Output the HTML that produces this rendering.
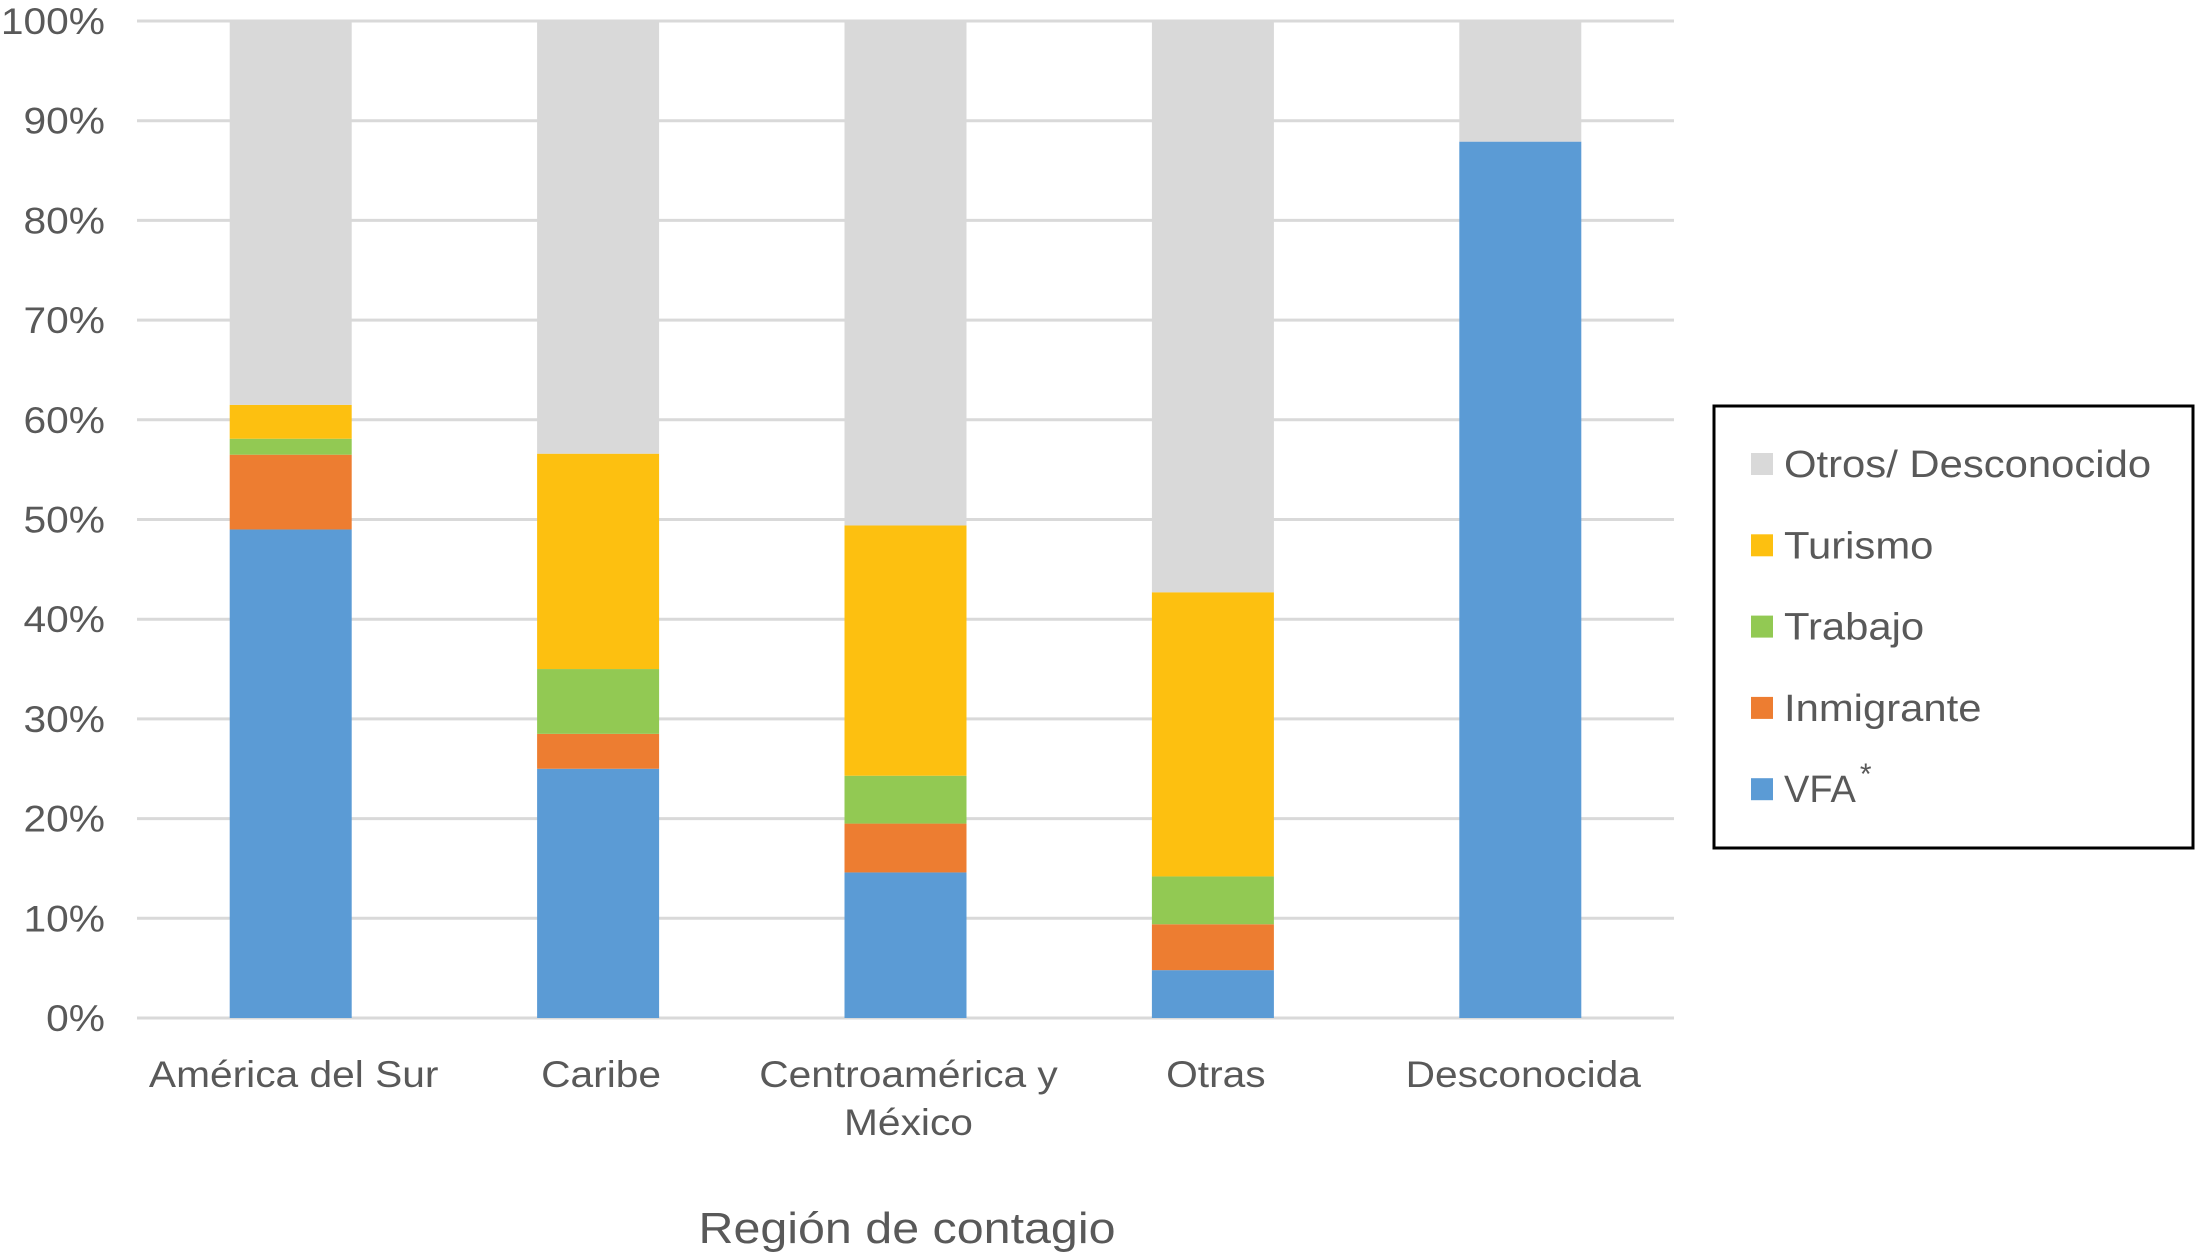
<!DOCTYPE html>
<html><head><meta charset="utf-8"><style>
html,body{margin:0;padding:0;background:#fff;}
svg{display:block;font-family:"Liberation Sans",Arial,sans-serif;}
</style></head><body>
<svg id="chart" width="2196" height="1256" viewBox="0 0 2196 1256" xmlns="http://www.w3.org/2000/svg">
<g id="grid"></g>
<g id="yticks"></g>
<g id="bars"></g>
<g id="xlabels"></g>
<text x="907" y="1243" font-size="44" fill="#595959" text-anchor="middle" textLength="417" lengthAdjust="spacingAndGlyphs">Región de contagio</text>
<g>
<rect x="1714" y="406" width="479" height="442" fill="#fff" stroke="#000" stroke-width="3"/>
<g id="legend-items"></g>
</g>
</svg>
<script>
const categories = [["América del Sur"], ["Caribe"], ["Centroamérica y", "México"], ["Otras"], ["Desconocida"]];
const seriesNames = ["VFA", "Inmigrante", "Trabajo", "Turismo", "Otros/ Desconocido"];
const seriesColors = ["#5B9BD5", "#ED7D31", "#92C953", "#FDC010", "#D9D9D9"];
const vfa = [49.0, 25.0, 14.6, 4.8, 87.9];
const inmigrante = [7.5, 3.5, 4.9, 4.6, 0];
const trabajo = [1.6, 6.5, 4.8, 4.8, 0];
const turismo = [3.4, 21.6, 25.1, 28.5, 0];
const otros = [38.5, 43.4, 50.6, 57.3, 12.1];
const yTicks = [0, 10, 20, 30, 40, 50, 60, 70, 80, 90, 100];

const NS = "http://www.w3.org/2000/svg";
const X0 = 137, X1 = 1674, Y0 = 1018, Y100 = 21;
const yScale = v => Y0 - (Y0 - Y100) * v / 100;
const band = (X1 - X0) / categories.length;
const xCenter = i => X0 + band * (i + 0.5);
const barW = 122;
const WIDEN = 1.1;
function mk(tag, attrs, parent) { const e = document.createElementNS(NS, tag); for (const k in attrs) e.setAttribute(k, attrs[k]); parent.appendChild(e); return e; }
function widen(t) { const w = t.getComputedTextLength(); t.setAttribute("textLength", w * WIDEN); t.setAttribute("lengthAdjust", "spacingAndGlyphs"); }

const grid = document.getElementById("grid"), yt = document.getElementById("yticks");
yTicks.forEach(t => {
  const l = mk("line", {x1: X0, x2: X1, y1: yScale(t), y2: yScale(t), stroke: "#D9D9D9", "stroke-width": 3}, grid);
  
  
  const tx = mk("text", {x: 105, y: yScale(t) + 13, "font-size": 37, fill: "#595959", "text-anchor": "end"}, yt);
  tx.textContent = t + "%";
  
  
  widen(tx);
});

const series = [vfa, inmigrante, trabajo, turismo, otros];
const bars = document.getElementById("bars");
categories.forEach((c, i) => {
  let acc = 0;
  series.forEach((s, k) => {
    const v = s[i];
    if (v > 0) {
      const r = mk("rect", {x: xCenter(i) - barW / 2, y: yScale(acc + v), width: barW, height: yScale(acc) - yScale(acc + v), fill: seriesColors[k]}, bars);
      
      
    }
    acc += v;
  });
  const xl = document.getElementById("xlabels");
  c.forEach((line, j) => {
    const t = mk("text", {x: xCenter(i) + 3, y: 1087 + j * 48, "font-size": 37, fill: "#595959", "text-anchor": "middle"}, xl);
    t.textContent = line;
    
    
    widen(t);
  });
});

const lg = document.getElementById("legend-items");
const order = [4, 3, 2, 1, 0];
order.forEach((k, r) => {
  const cy = 464 + r * 81.3;
  const sq = mk("rect", {x: 1751, y: cy - 11, width: 22, height: 22, fill: seriesColors[k]}, lg);
  
  
  const t = mk("text", {x: 1784, y: cy + 13, "font-size": 38, fill: "#595959"}, lg);
  t.textContent = seriesNames[k];
  
  
  if (k === 0) {
    const s = mk("tspan", {"font-size": 30, dy: -18, dx: 4}, t);
    s.textContent = "*";
  } else {
    widen(t);
  }
});
</script>
</body></html>
